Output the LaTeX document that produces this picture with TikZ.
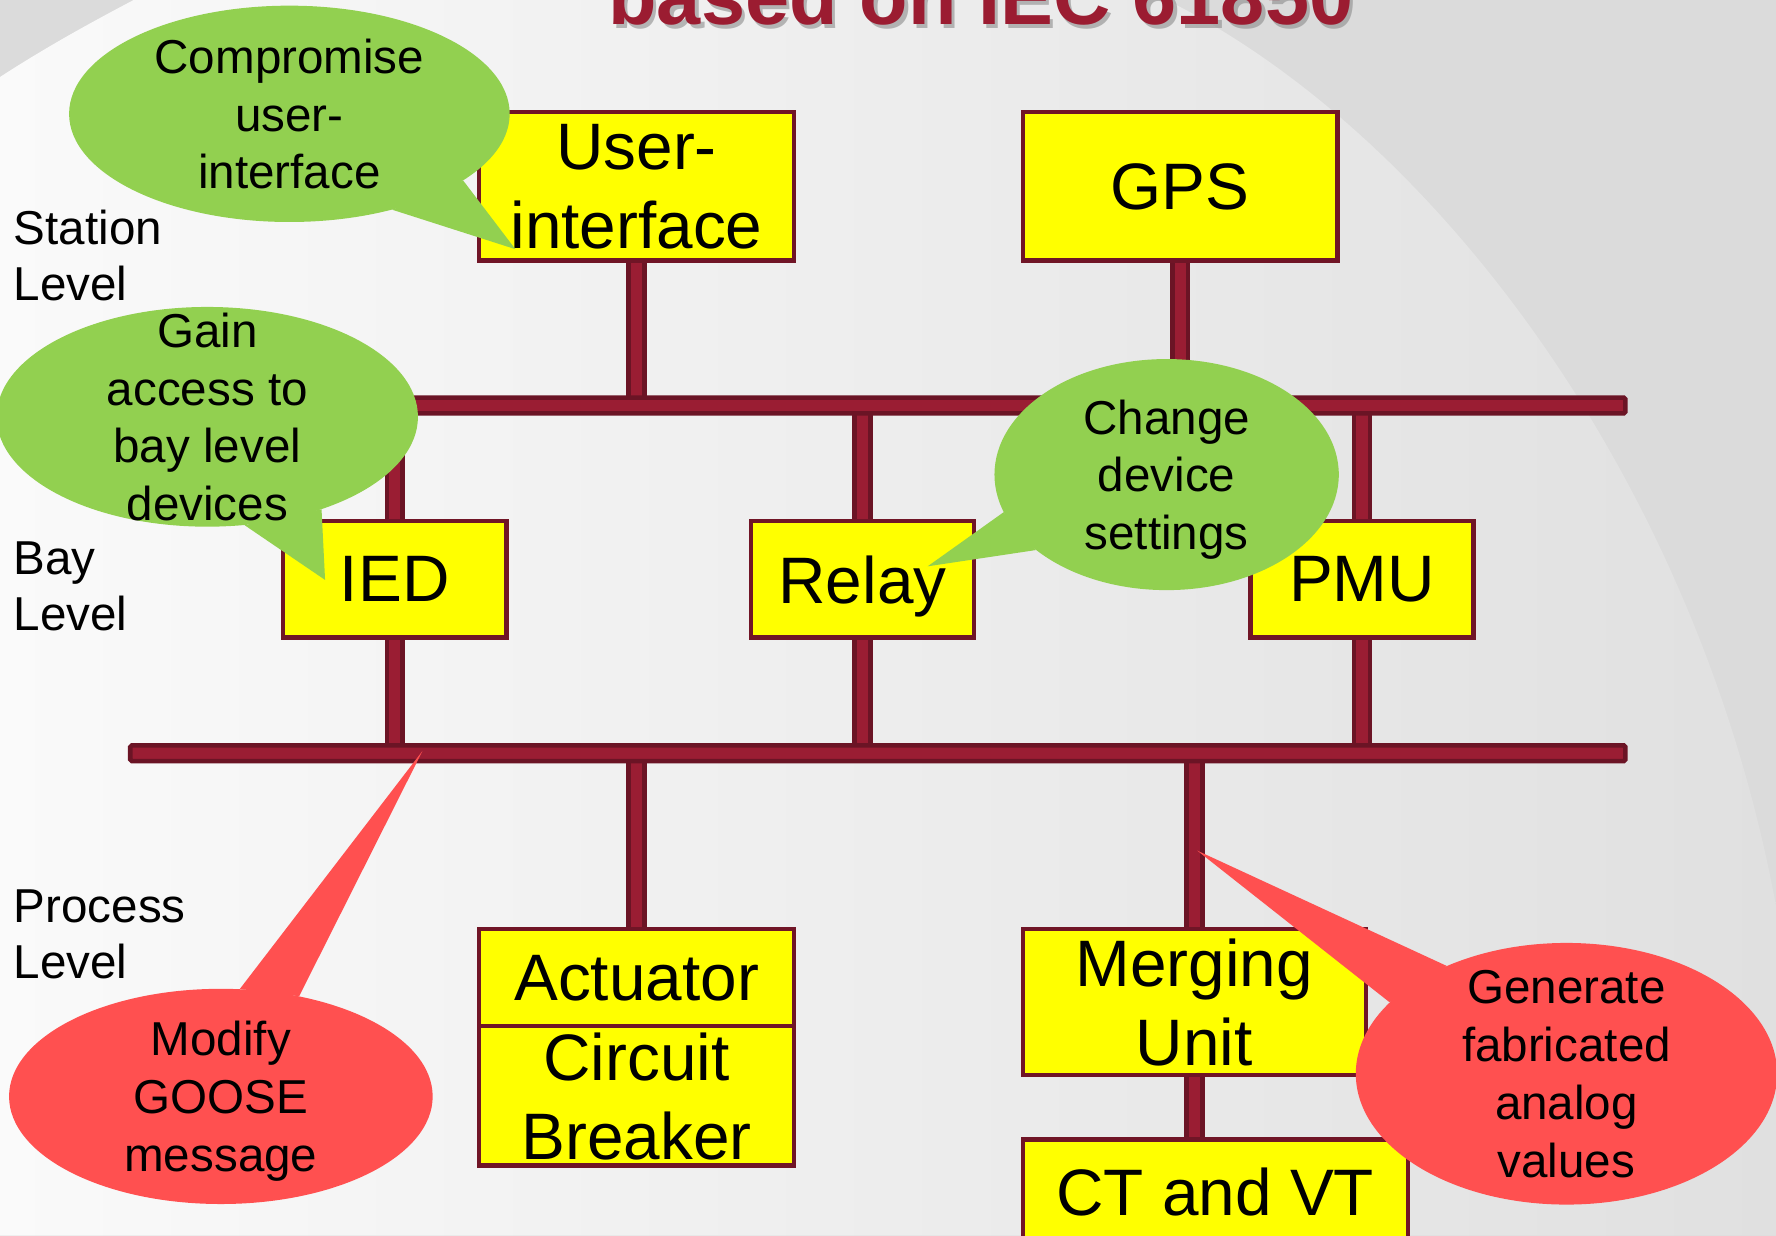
\documentclass[tikz,border=0pt]{standalone}
\usepackage{fontspec}
\setmainfont{Liberation Sans}
\usetikzlibrary{shapes.geometric}

\definecolor{busred}{HTML}{9A1D33}
\definecolor{busedge}{HTML}{6B1425}
\definecolor{boxedge}{HTML}{701526}
\definecolor{boxfill}{HTML}{FFFF00}
\definecolor{bubblegreen}{HTML}{92D050}
\definecolor{bubblered}{HTML}{FF5050}
\definecolor{titlered}{HTML}{9B1C31}
\definecolor{bgdark}{HTML}{DBDBDB}
\definecolor{bglight}{HTML}{FAFAFA}
\definecolor{bgmid}{HTML}{E0E0E0}

\pgfdeclarelayer{bg}
\pgfdeclarelayer{links}
\pgfdeclarelayer{tails}
\pgfdeclarelayer{bubbles}
\pgfsetlayers{bg,links,main,tails,bubbles}

\begin{document}
\begin{tikzpicture}[x=1pt,y=-1pt,
  device/.style={draw=boxedge, line width=4pt, fill=boxfill, inner sep=0pt,
    align=center, text depth=0pt, font=\fontsize{58}{70}\selectfont},
  bus/.style={draw=busedge, fill=busred, line width=4pt, inner sep=0pt,
    rounded corners=1.5pt, minimum height=14pt},
  link/.style={draw=busedge, line width=4pt, double=busred, double distance=10pt},
  bubble/.style={ellipse, inner sep=0pt},
  bubbletext/.style={align=center, inner sep=0pt, text depth=0pt,
    font=\fontsize{42}{51}\selectfont},
  levellabel/.style={align=left, inner sep=0pt, anchor=north west,
    font=\fontsize{42}{50}\selectfont},
  titletext/.style={anchor=base, inner sep=0pt, font=\fontsize{70}{84}\selectfont\bfseries},
]
\useasboundingbox (0,0) rectangle (1568,1091);

% slide background
\begin{pgfonlayer}{bg}
  \fill[bgdark] (0,0) rectangle (1568,1091);
  \shade[left color=bglight, right color=bgmid]
    (0,1091) -- (0,68) .. controls (40,42) and (80,20) .. (118,0) -- (1030,0)
    .. controls (1270,120) and (1500,430) .. (1568,800) -- (1568,1091) -- cycle;
\end{pgfonlayer}

% title
\node[titletext, text=black!45, opacity=0.6] (titleshadow) at (869,25) {based on IEC 61850};
\node[titletext, text=titlered] (title) at (866,22) {based on IEC 61850};

% level labels
\node[levellabel] (station) at (12,185) {Station\\Level};
\node[levellabel] (bay) at (12,478) {Bay\\Level};
\node[levellabel] (process) at (12,785) {Process\\Level};

% buses
\node[bus, minimum width=1098pt] (stationbus) at (886,358) {};
\node[bus, minimum width=1320pt] (processbus) at (775,665) {};

% devices
\node[device, minimum width=278pt, minimum height=131pt] (ui) at (562,164.5) {User-\\interface};
\node[device, minimum width=278pt, minimum height=131pt] (gps) at (1042,164.5) {GPS};
\node[device, minimum width=197pt, minimum height=103pt] (ied) at (348.5,511.5) {IED};
\node[device, minimum width=197pt, minimum height=103pt] (relay) at (761.5,511.5) {Relay};
\node[device, minimum width=197pt, minimum height=103pt] (pmu) at (1202.5,511.5) {PMU};
\node[device, minimum width=278pt, minimum height=86pt] (act) at (562,863) {Actuator};
\node[device, minimum width=278pt, minimum height=123pt] (cb) at (562,967.5) {Circuit\\Breaker};
\node[device, minimum width=303pt, minimum height=129pt] (mu) at (1054.5,884.5) {Merging\\Unit};
\node[device, minimum width=340pt, minimum height=92pt] (ct) at (1073,1052) {CT and VT};

% stubs between devices and buses
\begin{pgfonlayer}{links}
  \draw[link] (ui.south) -- (ui.south |- stationbus.center);
  \draw[link] (gps.south) -- (gps.south |- stationbus.center);
  \draw[link] (ied.north) -- (ied.north |- stationbus.center);
  \draw[link] (relay.north) -- (relay.north |- stationbus.center);
  \draw[link] (pmu.north) -- (pmu.north |- stationbus.center);
  \draw[link] (ied.south) -- (ied.south |- processbus.center);
  \draw[link] (relay.south) -- (relay.south |- processbus.center);
  \draw[link] (pmu.south) -- (pmu.south |- processbus.center);
  \draw[link] (act.north) -- (act.north |- processbus.center);
  \draw[link] (mu.north) -- (mu.north |- processbus.center);
  \draw[link] (mu.south) -- (mu.south |- ct.north);
\end{pgfonlayer}

% attack callouts
\begin{pgfonlayer}{bubbles}
  \node[bubble, fill=bubblegreen, minimum width=389pt, minimum height=191pt] (b1) at (255.5,100.5) {};
  \node[bubbletext] (b1text) at (b1.center) {Compromise\\user-\\interface};
  \node[bubble, fill=bubblegreen, minimum width=372pt, minimum height=194pt] (b2) at (183,368) {};
  \node[bubbletext] (b2text) at (b2.center) {Gain\\access to\\bay level\\devices};
  \node[bubble, fill=bubblegreen, minimum width=304pt, minimum height=204pt] (b3) at (1030,419) {};
  \node[bubbletext] (b3text) at (b3.center) {Change\\device\\settings};
  \node[bubble, fill=bubblered, minimum width=374pt, minimum height=190pt] (b4) at (195,968) {};
  \node[bubbletext] (b4text) at (b4.center) {Modify\\GOOSE\\message};
  \node[bubble, fill=bubblered, minimum width=372pt, minimum height=231pt] (b5) at (1383,948) {};
  \node[bubbletext] (b5text) at (b5.center) {Generate\\fabricated\\analog\\values};
\end{pgfonlayer}

\coordinate (tip1) at (455,220);
\coordinate (tip2) at (287,512);
\coordinate (tip3) at (819,500);
\coordinate (tip4) at (373,663);
\coordinate (tip5) at (1057,751);

\begin{pgfonlayer}{tails}
  \fill[bubblegreen] (b1.-21) -- (tip1) -- (b1.-43) -- cycle;
  \fill[bubblegreen] (b2.-39) -- (tip2) -- (b2.-71) -- cycle;
  \fill[bubblegreen] (b3.193) -- (tip3) -- (b3.210) -- cycle;
  \fill[bubblered] (b4.52) -- (tip4) -- (b4.80) -- cycle;
  \fill[bubblered] (b5.138) -- (tip5) -- (b5.158) -- cycle;
\end{pgfonlayer}
\end{tikzpicture}
\end{document}
